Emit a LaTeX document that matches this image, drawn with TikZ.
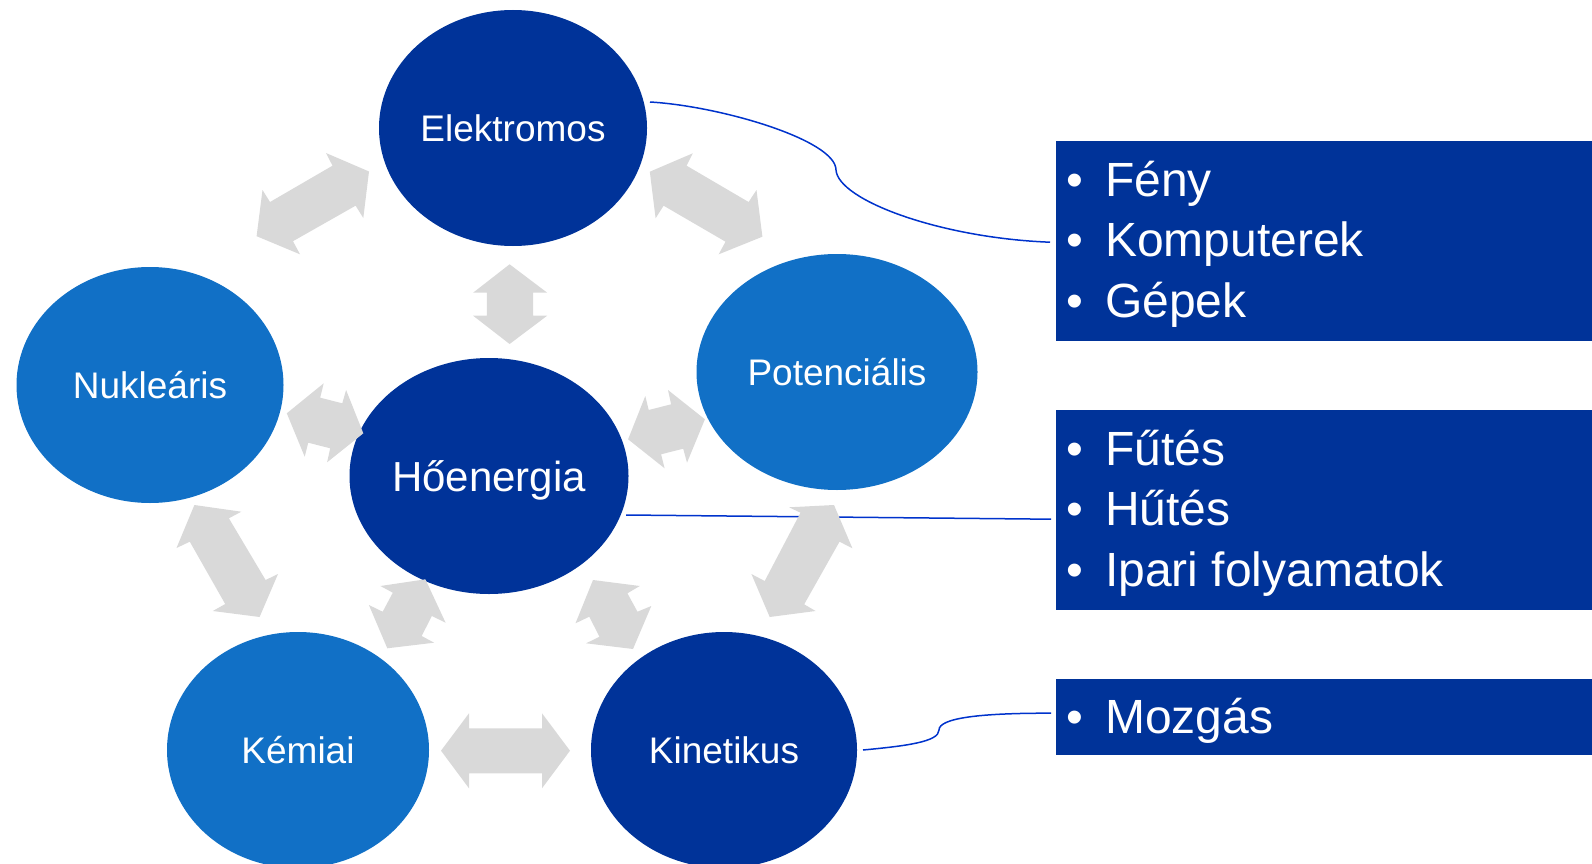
\documentclass[tikz,border=0pt]{standalone}
\usepackage{fontspec}
\setmainfont{Liberation Sans}
\usetikzlibrary{shapes.geometric,calc}
\definecolor{dblue}{RGB}{0,51,153}
\definecolor{lblue}{RGB}{17,112,198}
\definecolor{agray}{RGB}{217,217,217}
\definecolor{lineblue}{RGB}{0,51,204}
\begin{document}
\begin{tikzpicture}[x=1pt,y=-1pt,
  en/.style={ellipse, inner sep=0pt, text=white, font=\fontsize{37}{44}\selectfont, text height=26.5pt, text depth=0pt},
  dk/.style={en, fill=dblue},
  lt/.style={en, fill=lblue},
  infobox/.style={fill=dblue, inner sep=0pt, anchor=north west, minimum width=536pt},
  itm/.style={text=white, font=\fontsize{48}{58}\selectfont, anchor=base west, inner sep=0pt},
  bul/.style={text=white, font=\fontsize{48}{58}\selectfont, anchor=base, inner sep=0pt},
  conn/.style={draw=lineblue, line width=1.5pt},
  blk/.style={fill=agray}]
\useasboundingbox (0,0) rectangle (1592,864);
\clip (0,0) rectangle (1592,864);

% ellipses
\node[dk, minimum width=268pt, minimum height=236pt] (elek) at (513,128) {Elektromos};
\node[lt, minimum width=267pt, minimum height=236pt] (nukl) at (150,385) {Nukleáris};
\node[lt, minimum width=281pt, minimum height=236pt] (pot) at (837,372) {Potenciális};
\node[dk, minimum width=279pt, minimum height=236pt, font=\fontsize{42}{50}\selectfont, text height=30pt] (ho) at (489,476) {Hőenergia};
\node[lt, minimum width=262pt, minimum height=236pt] (kem) at (298,750) {Kémiai};
\node[dk, minimum width=266pt, minimum height=236pt] (kin) at (724,750) {Kinetikus};

% boxes
\node[infobox, minimum height=200pt] (b1) at (1056,141) {};
\node[infobox, minimum height=200pt] (b2) at (1056,410) {};
\node[infobox, minimum height=76pt] (b3) at (1056,679) {};

\foreach \t [count=\i] in {Fény,Komputerek,Gépek}{
  \node[bul] (b1bul\i) at ($(b1.north west)+(19,{55+60.5*(\i-1)})$) {\textbullet};
  \node[itm] (b1txt\i) at ($(b1.north west)+(49,{55+60.5*(\i-1)})$) {\t};
}
\foreach \t [count=\i] in {Fűtés,Hűtés,Ipari folyamatok}{
  \node[bul] (b2bul\i) at ($(b2.north west)+(19,{55+60.5*(\i-1)})$) {\textbullet};
  \node[itm] (b2txt\i) at ($(b2.north west)+(49,{55+60.5*(\i-1)})$) {\t};
}
\node[bul] (b3bul1) at ($(b3.north west)+(19,54)$) {\textbullet};
\node[itm] (b3txt1) at ($(b3.north west)+(49,54)$) {Mozgás};

% connectors
\draw[conn] ($(elek.center)+(137,-26)$) .. controls (720,106) and (836,140) .. (836,170)
  .. controls (838,200) and (940,238) .. ($(b1.west)+(-6,1)$);
\draw[conn] ($(ho.center)+(137,39)$) -- ($(b2.west)+(-5,9)$);
\draw[conn] ($(kin.center)+(139,0)$) .. controls (905,746) and (939,742) .. (939,730)
  .. controls (939,718) and (980,713) .. ($(b3.west)+(-5,-4)$);

% block arrows
\fill[blk] (326,153) -- (369,171.5) -- (363.3,218) -- (355.6,205.7) -- (293,241.2) -- (300,254.3) -- (256.6,236.2) -- (262.5,190) -- (270,202) -- (332.5,165.7) -- cycle;
\fill[blk] (692.8,153.3) -- (649.8,171.7) -- (655.6,218.3) -- (663.6,205.7) -- (725.5,241.7) -- (718.7,254.3) -- (762.4,236.7) -- (756.5,190) -- (748.6,202) -- (686.6,165.7) -- cycle;
\fill[blk] (509.6,264.3) -- (547.2,292.7) -- (533,292.7) -- (533,315.7) -- (547.2,315.7) -- (509.6,344) -- (473.1,315.7) -- (486.9,315.7) -- (486.9,292.7) -- (473.1,292.7) -- cycle;
\fill[blk] (323.7,383.3) -- (320.2,397.7) -- (342.3,403.3) -- (346.1,390) -- (363.3,433.3) -- (327.1,462.3) -- (330.2,448.3) -- (308.2,442.7) -- (304.7,456.7) -- (286.8,413.3) -- cycle;
\fill[blk] (668,390) -- (671.1,404.3) -- (648.7,410) -- (645.3,396) -- (628.1,439.3) -- (664.6,468.3) -- (661.1,454.3) -- (683.2,448.7) -- (687,462.7) -- (704.9,419.3) -- cycle;
\fill[blk] (194.4,505) -- (241.3,511.7) -- (228.9,518.3) -- (265.6,580) -- (278,574) -- (259.6,617) -- (212.8,611) -- (225.2,604) -- (189.8,541.7) -- (176.5,548) -- cycle;
\fill[blk] (380.4,586) -- (425.4,579.3) -- (445.6,622.7) -- (431.8,616) -- (421.7,636) -- (434.1,642.7) -- (387.3,648.3) -- (368.9,605) -- (382.7,611.7) -- (392.8,592.7) -- cycle;
\fill[blk] (593,580) -- (639.8,586) -- (627.4,593.3) -- (637.5,611.7) -- (651.3,606) -- (633,649) -- (586.1,643.3) -- (599.4,636.7) -- (589.3,616.7) -- (575.5,623.3) -- cycle;
\fill[blk] (834,505) -- (852.4,548.3) -- (839.5,541.7) -- (804.2,604.3) -- (815.6,611) -- (769.7,617) -- (751.4,574) -- (764.7,581) -- (800.5,512.7) -- (789,507.3) -- cycle;
\fill[blk] (441,750.7) -- (469,713.3) -- (469,728.3) -- (542,728.3) -- (542,713.3) -- (570,750.7) -- (542,788.3) -- (542,773.3) -- (469,773.3) -- (469,788.3) -- cycle;
\end{tikzpicture}
\end{document}
